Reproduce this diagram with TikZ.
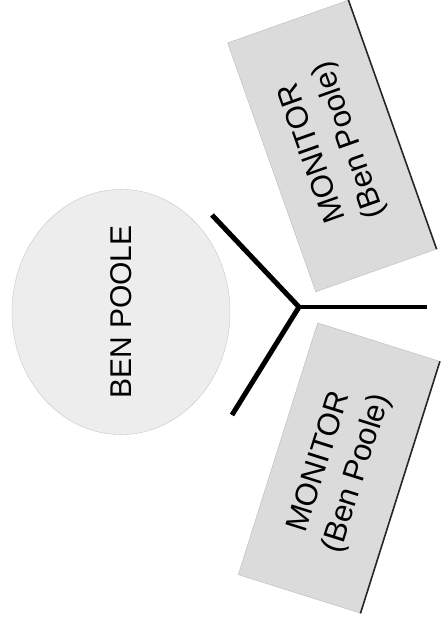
\documentclass[tikz,border=0pt]{standalone}
\usepackage{fontspec}
\setmainfont{Liberation Sans}
\usepackage{tikz}
\usetikzlibrary{shapes.geometric}

\begin{document}
\begin{tikzpicture}[x=1pt, y=1pt,
    card/.style={rectangle, fill=gray!28, draw=gray!55, thin, minimum width=264pt, minimum height=128pt,
        align=center, inner sep=0pt, font=\fontsize{31}{39}\selectfont},
    blob/.style={ellipse, fill=gray!14, draw=gray!45, thin, minimum width=234pt, minimum height=218pt,
        inner sep=0pt, font=\fontsize{30}{36}\selectfont},
    paperedge/.style={line width=1.6pt, black!85}]

    \useasboundingbox (0,0) rectangle (447,629);

    % Person
    \node[blob, rotate=90] (ben) at (121,317) {BEN POOLE};

    % Monitors
    \node[card, rotate=109.5] (monA) at (332,483) {MONITOR\\(Ben Poole)};
    \node[card, rotate=72.5] (monB) at (339,161) {MONITOR\\(Ben Poole)};
    \draw[paperedge] (monA.south west) -- (monA.south east);
    \draw[paperedge] (monB.south west) -- (monB.south east);

    % Fork
    \coordinate (hub) at (299,322);
    \coordinate (armtop) at (212,414);
    \coordinate (armbot) at (232,214);
    \coordinate (tail) at (427,322);
    \draw[line width=5pt] (armtop) -- (hub) -- (armbot);
    \draw[line width=4pt] (hub) -- (tail);

\end{tikzpicture}
\end{document}
